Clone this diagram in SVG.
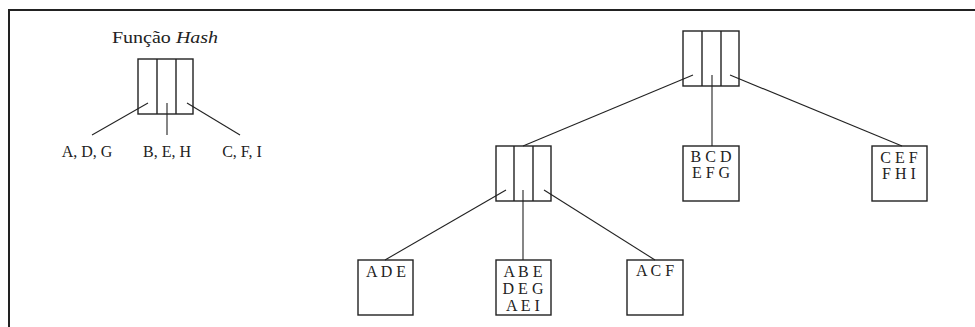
<svg xmlns="http://www.w3.org/2000/svg" width="975" height="327" viewBox="0 0 975 327">
  <style>
    .frame { stroke: #222; stroke-width: 2; fill: none; }
    .box { fill: none; stroke: #222; stroke-width: 1.4; }
    .div { stroke: #222; stroke-width: 1.4; }
    .edge { stroke: #222; stroke-width: 1.1; fill: none; }
    text { font-family: "Liberation Serif", "Times New Roman", serif; font-size: 16px; fill: #222; }
    .c { text-anchor: middle; }
  </style>
  <rect width="975" height="327" fill="#fff"/>
  <!-- frame: top and left rules only -->
  <path class="frame" d="M9 327 V10 H975"/>

  <!-- hash function legend -->
  <g id="hash">
    <text transform="translate(112 43) scale(1.25 1)">Função <tspan font-style="italic">Hash</tspan></text>
    <rect class="box" x="138" y="59" width="55" height="55"/>
    <line class="div" x1="157" y1="59" x2="157" y2="114"/>
    <line class="div" x1="176" y1="59" x2="176" y2="114"/>
    <text class="c" x="87" y="157">A, D, G</text>
    <text class="c" x="167" y="157">B, E, H</text>
    <text class="c" x="242" y="157">C, F, I</text>
  </g>

  <!-- interior nodes -->
  <g id="root">
    <rect class="box" x="683" y="31" width="56" height="55"/>
    <line class="div" x1="702" y1="31" x2="702" y2="86"/>
    <line class="div" x1="721" y1="31" x2="721" y2="86"/>
  </g>
  <g id="inner">
    <rect class="box" x="496" y="146" width="55" height="55"/>
    <line class="div" x1="514" y1="146" x2="514" y2="201"/>
    <line class="div" x1="533" y1="146" x2="533" y2="201"/>
  </g>

  <!-- leaves -->
  <g id="leaf-bcd">
    <rect class="box" x="683" y="146" width="56" height="55"/>
    <text class="c" x="711" y="162">B C D</text>
    <text class="c" x="711" y="178">E F G</text>
  </g>
  <g id="leaf-cef">
    <rect class="box" x="872" y="146" width="55" height="55"/>
    <text class="c" x="899" y="163">C E F</text>
    <text class="c" x="899" y="179">F H I</text>
  </g>
  <g id="leaf-ade">
    <rect class="box" x="358" y="260" width="55" height="55"/>
    <text class="c" x="386" y="277">A D E</text>
  </g>
  <g id="leaf-abe">
    <rect class="box" x="496" y="260" width="55" height="55"/>
    <text class="c" x="523" y="277">A B E</text>
    <text class="c" x="523" y="294">D E G</text>
    <text class="c" x="523" y="311">A E I</text>
  </g>
  <g id="leaf-acf">
    <rect class="box" x="627" y="260" width="56" height="55"/>
    <text class="c" x="655" y="276">A C F</text>
  </g>

  <!-- connectors: each starts inside its bucket cell -->
  <g id="connectors">
    <line class="edge" x1="148" y1="103" x2="92" y2="135"/>
    <line class="edge" x1="167" y1="103" x2="167" y2="135"/>
    <line class="edge" x1="187" y1="103" x2="240" y2="135"/>

    <line class="edge" x1="693" y1="75" x2="523" y2="146"/>
    <line class="edge" x1="712" y1="75" x2="712" y2="146"/>
    <line class="edge" x1="730" y1="75" x2="902" y2="146"/>

    <line class="edge" x1="506" y1="190" x2="385" y2="260"/>
    <line class="edge" x1="523" y1="190" x2="523" y2="260"/>
    <line class="edge" x1="544" y1="190" x2="655" y2="260"/>
  </g>
</svg>
